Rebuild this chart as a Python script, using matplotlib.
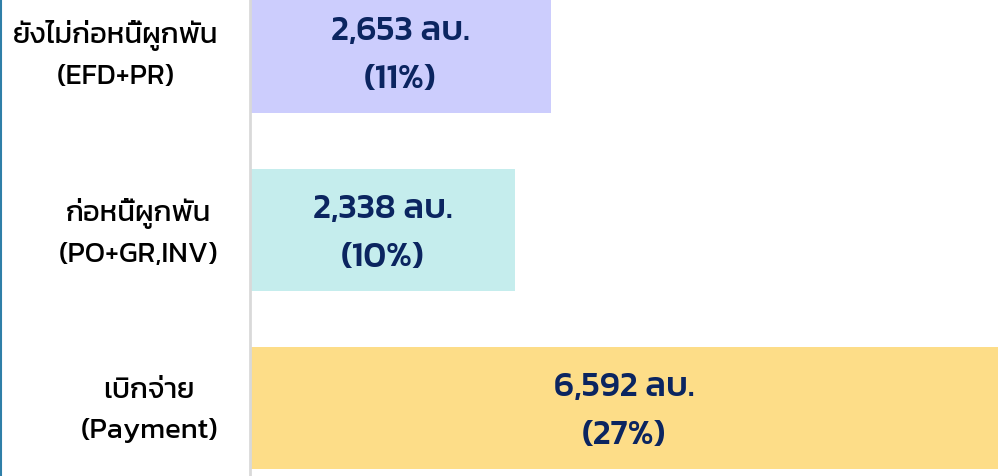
import matplotlib
matplotlib.use("Agg")
import matplotlib.pyplot as plt

categories = ["ยังไม่ก่อหนี้ผูกพัน\n(EFD+PR)",
              "ก่อหนี้ผูกพัน\n(PO+GR,INV)",
              "เบิกจ่าย\n(Payment)"]
values = [2653, 2338, 6592]
percents = [11, 10, 27]
colors = ["#cccdfd", "#c5eded", "#fddd88"]

family = ["Kanit", "DejaVu Sans"]

fig = plt.figure(figsize=(9.99, 4.77), dpi=100)
ax = fig.add_axes([250 / 999, 0, 749 / 999, 1])

ypos = list(range(len(values)))
ax.barh(ypos, values, height=0.685, color=colors)
for y, v, p in zip(ypos, values, percents):
    ax.annotate(f"{v:,} ลบ.\n({p}%)", xy=(v / 2, y),
                xytext=(0, -2), textcoords="offset points",
                ha="center", va="center",
                fontsize=25, fontweight="medium", color="#0b2560",
                family=family, linespacing=1.72)

# category labels, right aligned left of the axis, lines centred
for y, cat in zip(ypos, categories):
    ax.annotate(cat, xy=(0, y), xycoords=ax.get_yaxis_transform(),
                xytext=(-23, -1.5), textcoords="offset points",
                ha="right", va="center", multialignment="center",
                family=family, fontsize=21, linespacing=1.66)

ax.set_xlim(0, 6600)
ax.set_ylim(2.382, -0.298)
ax.set_xticks([])
ax.set_yticks([])
for s in ["top", "right", "bottom"]:
    ax.spines[s].set_visible(False)
ax.spines["left"].set_color("#d9d9d9")
ax.spines["left"].set_linewidth(2)

# thin blue rule at the left edge
fig.add_artist(plt.Line2D([0.001, 0.001], [0, 1], color="#2f7fa8", lw=1.5))

fig.savefig("out.png", dpi=100)
